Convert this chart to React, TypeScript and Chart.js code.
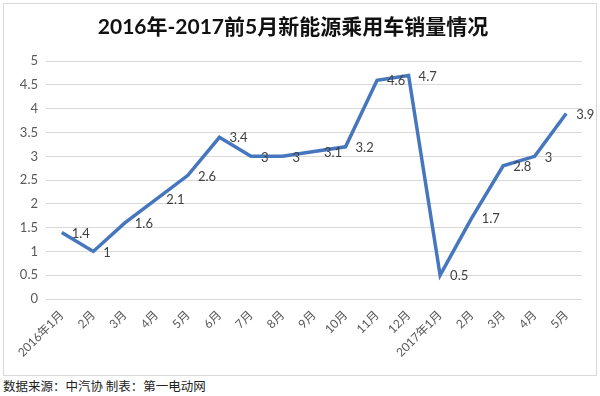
import React, { useEffect, useRef } from "react";
import { Chart, registerables } from "chart.js";

Chart.register(...registerables);

const categories = [
  "2016年1月", "2月", "3月", "4月", "5月", "6月", "7月", "8月", "9月", "10月", "11月", "12月",
  "2017年1月", "2月", "3月", "4月", "5月",
];
const sales = [1.4, 1, 1.6, 2.1, 2.6, 3.4, 3, 3, 3.1, 3.2, 4.6, 4.7, 0.5, 1.7, 2.8, 3, 3.9];
const titleText = "2016年-2017前5月新能源乘用车销量情况";
const sourceText = "数据来源：中汽协 制表：第一电动网";

const FONT = "Lato, 'Noto Sans CJK SC', sans-serif";

const dataLabelPlugin = {
  id: "dataLabels",
  afterDatasetsDraw(chart: any) {
    const ctx = chart.ctx;
    const meta = chart.getDatasetMeta(0);
    const values = chart.data.datasets[0].data as number[];
    ctx.save();
    ctx.font = `13px ${FONT}`;
    ctx.fillStyle = "#404040";
    ctx.textAlign = "left";
    ctx.textBaseline = "middle";
    meta.data.forEach((pt: any, i: number) => {
      ctx.fillText(String(values[i]), pt.x + 10, pt.y + 1);
    });
    ctx.restore();
  },
};

export default function App() {
  const ref = useRef<HTMLCanvasElement | null>(null);
  useEffect(() => {
    if (!ref.current) return;
    const chart = new Chart(ref.current, {
      type: "line",
      data: {
        labels: categories,
        datasets: [
          {
            data: sales,
            borderColor: "#4676bd",
            backgroundColor: "#4676bd",
            borderWidth: 3.5,
            pointRadius: 0,
            tension: 0,
            borderJoinStyle: "miter",
          },
        ],
      },
      options: {
        animation: false,
        responsive: false,
        maintainAspectRatio: false,
        layout: { padding: { left: 0, right: 14, top: 0, bottom: 0 } },
        plugins: {
          legend: { display: false },
          tooltip: { enabled: false },
          title: {
            display: true,
            text: titleText,
            color: "#111",
            font: { family: FONT, size: 21, weight: "bold", lineHeight: 1.2 },
            padding: { top: 11, bottom: 21 },
          },
        },
        scales: {
          x: {
            offset: true,
            grid: { display: false },
            border: { display: false },
            ticks: {
              color: "#595959",
              font: { family: FONT, size: 12 },
              minRotation: 45,
              maxRotation: 45,
              autoSkip: false,
              padding: 1,
            },
            afterFit(scale: any) {
              scale.height = 76;
            },
          },
          y: {
            min: 0,
            max: 5,
            grid: { color: "#d9d9d9", lineWidth: 1, drawTicks: false },
            border: { display: false },
            ticks: {
              stepSize: 0.5,
              color: "#595959",
              font: { family: FONT, size: 13 },
              padding: 8,
              callback: (v: any) => String(v),
            },
            afterFit(scale: any) {
              scale.width = 42;
            },
          },
        },
      },
      plugins: [dataLabelPlugin],
    } as any);
    return () => chart.destroy();
  }, []);

  return (
    <div style={{ position: "absolute", left: 0, top: 0, width: 600, height: 396, background: "#fff" }}>
      <div
        style={{
          position: "absolute",
          left: 3,
          top: 3,
          width: 592,
          height: 371,
          border: "1px solid #d9d9d9",
        }}
      >
        <canvas ref={ref} width={592} height={371} style={{ display: "block" }} />
      </div>
      <div
        style={{
          position: "absolute",
          left: 3,
          top: 377,
          fontFamily: "'Noto Sans CJK SC', sans-serif",
          fontSize: 12.5,
          color: "#222",
          lineHeight: "17px",
          whiteSpace: "nowrap",
        }}
      >
        {sourceText}
      </div>
    </div>
  );
}
